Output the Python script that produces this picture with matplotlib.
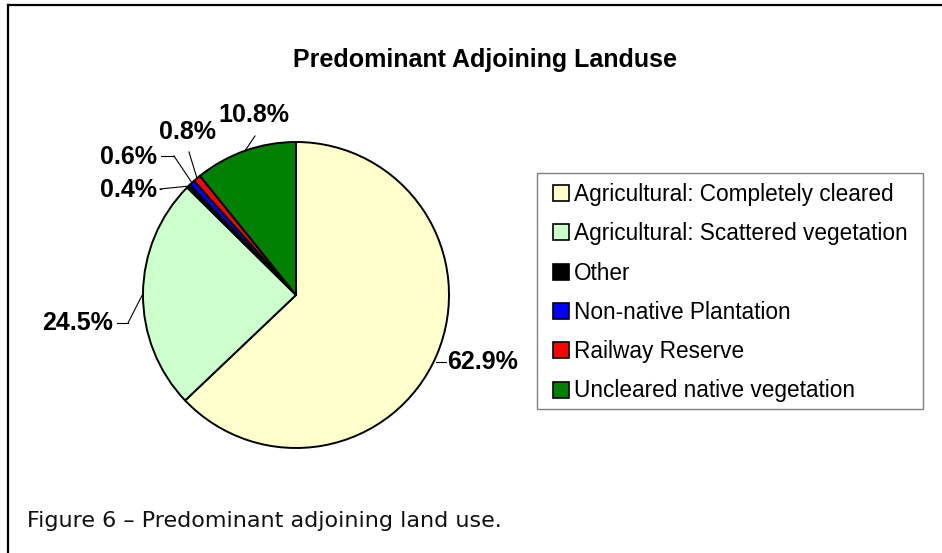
import numpy as np
import matplotlib
matplotlib.use("Agg")
import matplotlib.pyplot as plt
from matplotlib.patches import Patch, Rectangle
from matplotlib.lines import Line2D

categories = [
    "Agricultural: Completely cleared",
    "Agricultural: Scattered vegetation",
    "Other",
    "Non-native Plantation",
    "Railway Reserve",
    "Uncleared native vegetation",
]
shares = [62.9, 24.5, 0.4, 0.6, 0.8, 10.8]
colors = ["#FFFFCC", "#CCFFCC", "#000000", "#0000FF", "#FF0000", "#008000"]

W, H = 942, 553
fig = plt.figure(figsize=(W / 100, H / 100), dpi=100)

# outer frame (only left and top edges are visible in the crop)
fig.add_artist(Line2D([8 / W, 8 / W], [0, 1 - 5 / H], color="black", lw=1.6))
fig.add_artist(Line2D([8 / W, 1], [1 - 5 / H, 1 - 5 / H], color="black", lw=1.6))

cx, cy, r = 296, 295, 153


def px(x, y):
    # pixel position -> pie data coordinates
    return (x - cx) / r, (cy - y) / r


ax = fig.add_axes([(cx - r) / W, (H - cy - r) / H, 2 * r / W, 2 * r / H])
wedges, _ = ax.pie(
    shares,
    colors=colors,
    startangle=90,
    counterclock=False,
    wedgeprops=dict(edgecolor="black", linewidth=1.4),
)
ax.set_xlim(-1, 1)
ax.set_ylim(-1, 1)
ax.set_aspect("equal")
ax.axis("off")

# label text anchor (pixels) and leader elbow (pixels) for each slice
label_pos = [(437, 362), (113, 323), (157, 190), (157, 157), (188, 132), (254, 115)]
label_ha = ["left", "right", "right", "right", "center", "center"]
elbows = [(436, 362), (128, 323), (160, 189), (174, 156), (189, 152), (255, 136)]

cum = np.cumsum([0] + shares)
for i, w in enumerate(wedges):
    mid = 90 - (cum[i] + cum[i + 1]) / 2 / 100 * 360
    ex, ey = np.cos(np.radians(mid)), np.sin(np.radians(mid))
    lx, ly = px(*label_pos[i])
    bx, by = px(*elbows[i])
    if label_ha[i] == "left":
        # short horizontal tick from the rim
        ax.plot([bx, bx + 10 / r], [by, by], color="black", lw=0.8, clip_on=False)
    else:
        ax.plot([ex, bx], [ey, by], color="black", lw=0.8, clip_on=False)
    if label_ha[i] == "right":
        ax.plot([bx, lx + 4 / r], [by, by], color="black", lw=0.8, clip_on=False)
    ax.text(
        lx + (10 / r if label_ha[i] == "left" else 0),
        ly,
        f"{shares[i]:.1f}%",
        ha=label_ha[i],
        va="center",
        fontsize=18,
        fontweight="bold",
        family="Liberation Sans",
        clip_on=False,
    )

fig.text(
    485 / W, 1 - 60 / H, "Predominant Adjoining Landuse",
    ha="center", va="center", fontsize=18, fontweight="bold", family="Liberation Sans",
)

# legend box drawn separately so the padding can match
fig.add_artist(Rectangle((537 / W, 1 - 409 / H), 386 / W, 236 / H,
                         transform=fig.transFigure, facecolor="white",
                         edgecolor="#808080", linewidth=1.0, zorder=1))
handles = [Patch(facecolor=c, edgecolor="black", linewidth=1.2) for c in colors]
leg = fig.legend(
    handles,
    categories,
    loc="upper left",
    bbox_to_anchor=(553 / W, 1 - 183 / H),
    bbox_transform=fig.transFigure,
    prop={"family": "Liberation Sans", "size": 16.3},
    handlelength=0.72,
    handleheight=0.72,
    handletextpad=0.2,
    labelspacing=0.72,
    borderpad=0,
    borderaxespad=0,
    frameon=False,
)
leg.set_zorder(2)

fig.text(
    27 / W, 1 - 521 / H, "Figure 6 \u2013 Predominant adjoining land use.",
    ha="left", va="center", fontsize=16, family="DejaVu Sans", color="#111111",
)

fig.savefig("out.png", dpi=100)
